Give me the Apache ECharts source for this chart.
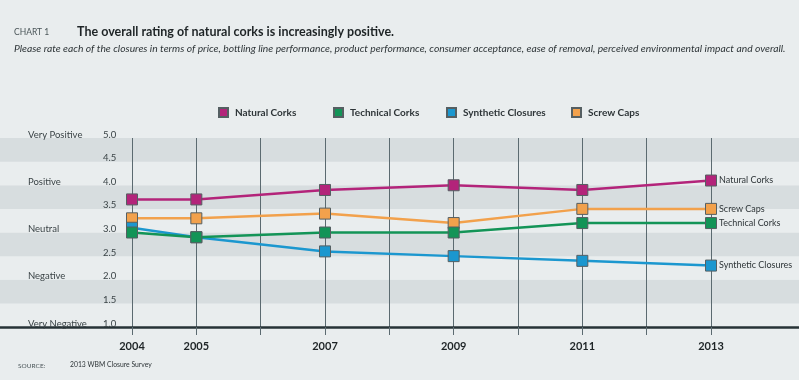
<!DOCTYPE html>
<html><head><meta charset="utf-8">
<script src="https://cdn.jsdelivr.net/npm/echarts@6/dist/echarts.min.js"></script>
<style>html,body{margin:0;padding:0;background:#e9edee}#c{width:799px;height:380px}</style>
</head><body><div id="c"></div>
<script>
const years = [2004, 2005, 2007, 2009, 2011, 2013];
const labeledYears = [2004, 2005, 2007, 2009, 2011, 2013];
const naturalCorks = [3.7, 3.7, 3.9, 4.0, 3.9, 4.1];
const technicalCorks = [3.0, 2.9, 3.0, 3.0, 3.2, 3.2];
const syntheticClosures = [3.1, 2.9, 2.6, 2.5, 2.4, 2.3];
const screwCaps = [3.3, 3.3, 3.4, 3.2, 3.5, 3.5];
const seriesNames = ['Natural Corks', 'Technical Corks', 'Synthetic Closures', 'Screw Caps'];
const ratingLabels = ['Very Negative', 'Negative', 'Neutral', 'Positive', 'Very Positive'];

const colors = ['#b3247a', '#139457', '#1b97cf', '#f2a14c'];
const seriesData = [naturalCorks, technicalCorks, syntheticClosures, screwCaps];
const font = 'Lato, "Noto Sans", sans-serif';

const chart = echarts.init(document.getElementById('c'));
const legendLeft = [213, 328, 441, 566];
chart.setOption({
  backgroundColor: '#e9edee',
  animation: false,
  title: [
    {text: 'CHART 1', left: 9, top: 23, padding: 5, textStyle: {fontFamily: font, fontSize: 8.5, fontWeight: 'normal', color: '#4a5558'}},
    {text: 'The overall rating of natural corks is increasingly positive.', left: 72, top: 20, textStyle: {fontFamily: font, fontSize: 12.5, fontWeight: 'bold', color: '#1e2426'}},
    {text: 'Please rate each of the closures in terms of price, bottling line performance, product performance, consumer acceptance, ease of removal, perceived environmental impact and overall.', left: 9, top: 39, textStyle: {fontFamily: font, fontSize: 10.3, fontStyle: 'italic', fontWeight: 'normal', color: '#2e3538'}},
    {text: 'SOURCE:', left: 13, top: 357, textStyle: {fontFamily: font, fontSize: 6.5, fontWeight: 'normal', color: '#4a5558'}},
    {text: '2013 WBM Closure Survey', left: 65, top: 356, textStyle: {fontFamily: font, fontSize: 6.8, fontWeight: 'normal', color: '#2e3538'}}
  ],
  legend: seriesNames.map((n, i) => ({
    data: [n], left: legendLeft[i], top: 102, icon: 'rect', itemWidth: 9, itemHeight: 9, itemGap: 0,
    textStyle: {fontFamily: font, fontSize: 10, fontWeight: 'bold', color: '#2e3538', padding: [0, 0, 0, 2]}
  })),
  grid: [
    {left: 0, right: 0, top: 138, bottom: 53},
    {left: 132, right: 88, top: 138, bottom: 53}
  ],
  xAxis: [
    {type: 'value', gridIndex: 0, min: 0, max: 1, axisLabel: {show: false}, axisTick: {show: false}, splitLine: {show: false},
     axisLine: {show: true, onZero: false, lineStyle: {color: '#263236', width: 2.5}}},
    {type: 'value', gridIndex: 1, min: 2004, max: 2013, interval: 1,
     axisLine: {show: false, onZero: false},
     axisTick: {show: true, length: 8, lineStyle: {color: '#5b6a70', width: 1}},
     splitLine: {show: true, lineStyle: {color: '#5b6a70', width: 1}},
     axisLabel: {margin: 14, fontFamily: font, fontSize: 11, fontWeight: 'bold', color: '#1e2426',
       formatter: v => labeledYears.indexOf(v) >= 0 ? String(v) : ''}}
  ],
  yAxis: [
    {type: 'value', gridIndex: 0, min: 1, max: 5, interval: 0.5,
     axisLine: {show: false}, axisTick: {show: false}, splitLine: {show: false},
     splitArea: {show: true, areaStyle: {color: ['#e9edee', '#d7dddf']}},
     axisLabel: {inside: true, margin: 103, align: 'left', verticalAlign: 'bottom', lineHeight: 7,
       fontFamily: font, fontSize: 9.5, color: '#3a4346', formatter: v => v.toFixed(1)}},
    {type: 'value', gridIndex: 0, min: 1, max: 5, interval: 1, position: 'left',
     axisLine: {show: false}, axisTick: {show: false}, splitLine: {show: false},
     axisLabel: {inside: true, margin: 28, align: 'left', verticalAlign: 'bottom', lineHeight: 7,
       fontFamily: font, fontSize: 9.5, color: '#3a4346', formatter: v => ratingLabels[Math.round(v) - 1]}},
    {type: 'value', gridIndex: 1, min: 1, max: 5, show: false, splitLine: {show: false}}
  ],
  series: seriesNames.map((n, i) => ({
    name: n, type: 'line', xAxisIndex: 1, yAxisIndex: 2,
    data: years.map((y, j) => [y, seriesData[i][j]]),
    symbol: 'rect', symbolSize: 11,
    lineStyle: {color: colors[i], width: 2.5},
    itemStyle: {color: colors[i], borderColor: '#555f62', borderWidth: 1},
    endLabel: {show: true, formatter: n, distance: 8, fontFamily: font, fontSize: 9, color: '#2e3538'},
    z: 10 - i
  }))
});
</script></body></html>
